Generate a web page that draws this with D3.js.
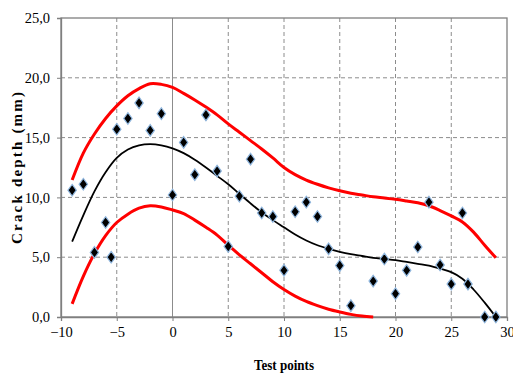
<!DOCTYPE html>
<html>
<head>
<meta charset="utf-8">
<script src="https://cdn.jsdelivr.net/npm/d3@7"></script>
<style>
  body { margin: 0; background: #fff; }
  svg { display: block; }
  .serif { font-family: "Liberation Serif", "Times New Roman", Times, serif; }
</style>
</head>
<body>
<div id="chart"></div>
<script>
// measured test points
const pointX = [-9, -8, -7, -6, -5.5, -5, -4, -3, -2, -1, 0, 1, 2, 3, 4, 5, 6, 7, 8, 9, 10, 11, 12, 13, 14, 15, 16, 18, 19, 20, 21, 22, 23, 24, 25, 26, 26.5, 28, 29];
const pointY = [10.6, 11.1, 5.4, 7.9, 5.0, 15.7, 16.6, 17.9, 15.6, 17.0, 10.2, 14.6, 11.9, 16.9, 12.2, 5.9, 10.1, 13.2, 8.7, 8.4, 3.9, 8.8, 9.6, 8.4, 5.7, 4.3, 0.95, 3.0, 4.85, 1.95, 3.9, 5.85, 9.6, 4.35, 2.75, 8.7, 2.75, 0, 0];

// fitted trend and bounds
const curveX = [-9, -8, -7, -6, -5, -4, -3, -2, -1, 0, 1, 2, 3, 4, 5, 6, 7, 8, 9, 10, 11, 12, 13, 14, 15, 16, 17, 18, 19, 20, 21, 22, 23, 24, 25, 26, 27, 28, 29];
const fitY = [6.3, 8.5, 10.5, 12.1, 13.3, 14.0, 14.35, 14.45, 14.35, 14.1, 13.7, 13.15, 12.5, 11.8, 11.1, 10.3, 9.5, 8.75, 8.1, 7.5, 6.9, 6.4, 6.0, 5.7, 5.45, 5.25, 5.1, 4.95, 4.85, 4.75, 4.6, 4.45, 4.3, 4.05, 3.75, 3.2, 2.3, 1.2, 0.0];
const upperY = [11.45, 13.7, 15.3, 16.6, 17.65, 18.5, 19.1, 19.5, 19.45, 19.2, 18.7, 18.15, 17.55, 16.9, 16.15, 15.45, 14.75, 14.05, 13.3, 12.5, 11.9, 11.45, 11.1, 10.8, 10.55, 10.35, 10.2, 10.05, 9.95, 9.84, 9.7, 9.55, 9.3, 8.9, 8.45, 7.95, 7.1, 6.0, 4.95];
const lowerX = [-9, -8, -7, -6, -5, -4, -3, -2, -1, 0, 1, 2, 3, 4, 5, 6, 7, 8, 9, 10, 11, 12, 13, 14, 15, 16, 17, 18];
const lowerY = [1.1, 3.4, 5.3, 6.8, 7.9, 8.6, 9.1, 9.3, 9.2, 8.95, 8.65, 8.1, 7.5, 6.85, 6.0, 5.2, 4.45, 3.7, 2.95, 2.3, 1.75, 1.3, 0.95, 0.65, 0.42, 0.22, 0.08, 0.0];

const xTicks = [-10, -5, 0, 5, 10, 15, 20, 25, 30];
const yTicks = [0, 5, 10, 15, 20, 25];

const width = 513, height = 378;
const plotL = 61, plotR = 507, plotT = 18, plotB = 317;

const x = d3.scaleLinear().domain([-10, 30]).range([plotL, plotR]);
const y = d3.scaleLinear().domain([0, 25]).range([plotB, plotT]);

const svg = d3.select('#chart').append('svg')
    .attr('width', width)
    .attr('height', height);

// grid
svg.append('g').selectAll('line')
    .data(yTicks.filter(d => d > 0 && d < 25))
    .enter().append('line')
    .attr('x1', plotL).attr('x2', plotR)
    .attr('y1', d => y(d)).attr('y2', d => y(d))
    .attr('stroke', '#8c8c8c').attr('stroke-width', 1)
    .attr('stroke-dasharray', '4,3');

svg.append('g').selectAll('line')
    .data(xTicks.filter(d => d > -10 && d < 30))
    .enter().append('line')
    .attr('x1', d => x(d)).attr('x2', d => x(d))
    .attr('y1', plotT).attr('y2', plotB)
    .attr('stroke', '#8c8c8c').attr('stroke-width', 1)
    .attr('stroke-dasharray', d => d === 0 ? null : '4,3');

// plot frame
svg.append('rect')
    .attr('x', plotL).attr('y', plotT)
    .attr('width', plotR - plotL).attr('height', plotB - plotT)
    .attr('fill', 'none')
    .attr('stroke', '#7f7f7f').attr('stroke-width', 1.3);

// axes
const xAxis = svg.append('g')
    .attr('transform', `translate(0,${plotB})`)
    .call(d3.axisBottom(x).tickValues(xTicks).tickSize(4).tickFormat(d3.format('d')));
const yAxis = svg.append('g')
    .attr('transform', `translate(${plotL},0)`)
    .call(d3.axisLeft(y).tickValues(yTicks).tickSize(4).tickFormat(d => d.toFixed(1).replace('.', ',')));

[xAxis, yAxis].forEach(a => {
    a.attr('font-family', null).attr('font-size', null);
    a.select('.domain').attr('stroke', '#7f7f7f').attr('stroke-width', 1.3);
    a.selectAll('.tick line').attr('stroke', '#7f7f7f');
    a.selectAll('.tick text')
        .attr('class', 'serif')
        .style('font-size', '14.5px')
        .attr('fill', '#000');
});
xAxis.selectAll('.tick text').attr('dy', null).attr('y', 20);
yAxis.selectAll('.tick text').attr('x', -11);

// curves
const line = d3.line()
    .x(d => x(d[0]))
    .y(d => y(d[1]))
    .curve(d3.curveCatmullRom);

svg.append('path')
    .datum(curveX.map((v, i) => [v, upperY[i]]))
    .attr('d', line)
    .attr('fill', 'none').attr('stroke', '#ff0000').attr('stroke-width', 3);

svg.append('path')
    .datum(lowerX.map((v, i) => [v, lowerY[i]]))
    .attr('d', line)
    .attr('fill', 'none').attr('stroke', '#ff0000').attr('stroke-width', 3);

svg.append('path')
    .datum(curveX.map((v, i) => [v, fitY[i]]))
    .attr('d', line)
    .attr('fill', 'none').attr('stroke', '#000').attr('stroke-width', 1.8);

// test points
svg.append('g').selectAll('path')
    .data(pointX.map((v, i) => [v, pointY[i]]))
    .enter().append('path')
    .attr('transform', d => `translate(${x(d[0])},${y(d[1])})`)
    .attr('d', 'M0,-5.8L4.2,0L0,5.8L-4.2,0Z')
    .attr('fill', '#000')
    .attr('stroke', '#8fb6de')
    .attr('stroke-width', 1.2);

// titles
svg.append('text')
    .attr('class', 'serif')
    .attr('x', 284).attr('y', 370)
    .attr('text-anchor', 'middle')
    .style('font-weight', 'bold')
    .style('font-size', '14px')
    .attr('textLength', 60)
    .attr('lengthAdjust', 'spacingAndGlyphs')
    .text('Test points');

svg.append('text')
    .attr('class', 'serif')
    .attr('transform', 'translate(22,168) rotate(-90)')
    .attr('text-anchor', 'middle')
    .style('font-weight', 'bold')
    .style('font-size', '15px')
    .attr('textLength', 152)
    .attr('lengthAdjust', 'spacing')
    .text('Crack depth (mm)');
</script>
</body>
</html>
